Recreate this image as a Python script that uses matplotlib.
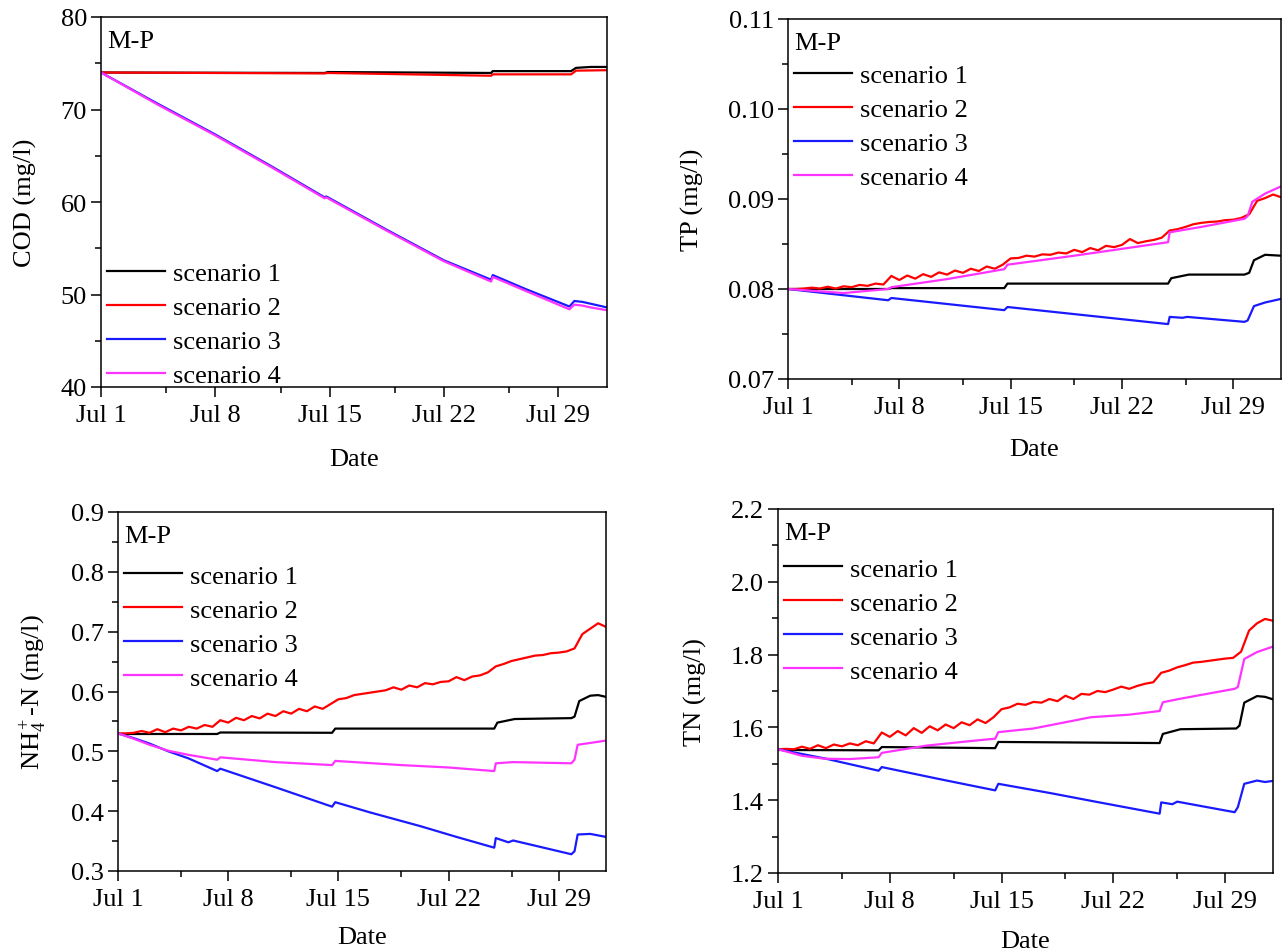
import numpy as np
import matplotlib
matplotlib.use('Agg')
import matplotlib.pyplot as plt
from matplotlib.ticker import FixedLocator, MultipleLocator, FormatStrFormatter

# days counted from Jul 1 00:00
DATE_TICKS = [0, 7, 14, 21, 28]
DATE_LABELS = ['Jul 1', 'Jul 8', 'Jul 15', 'Jul 22', 'Jul 29']
DATE_MINOR = [4, 11, 18, 25]
SCENARIOS = ['scenario 1', 'scenario 2', 'scenario 3', 'scenario 4']
COLORS = ['#000000', '#ff0000', '#1a1aff', '#ff33ff']

# half-day sampling used for the oscillating scenario 2 curves
HALF_DAYS = [i * 0.5 for i in range(63)]

# ---------------- COD ----------------
cod_s1_days = [0, 13.7, 13.9, 23.9, 24.0, 28.8, 29.1, 30.0, 31]
cod_s1 = [74.0, 73.95, 74.05, 73.95, 74.15, 74.15, 74.5, 74.6, 74.6]
cod_s2_days = [0, 13.7, 13.9, 23.9, 24.0, 28.8, 29.1, 31]
cod_s2 = [74.0, 73.9, 73.95, 73.65, 73.8, 73.8, 74.2, 74.25]
cod_s3_days = [0, 3.5, 7, 10.5, 13.7, 13.8, 17.5, 21, 23.9, 24.0, 26, 28.7, 29.0, 29.5, 30.0, 31]
cod_s3 = [74.0, 70.6, 67.3, 63.8, 60.5, 60.6, 57.0, 53.7, 51.6, 52.1, 50.6, 48.7, 49.3, 49.2, 49.0, 48.6]
cod_s4_days = [0, 3.5, 7, 10.5, 13.7, 13.8, 17.5, 21, 23.9, 24.0, 26, 28.7, 29.0, 29.5, 30.0, 31]
cod_s4 = [74.0, 70.5, 67.2, 63.7, 60.4, 60.5, 56.9, 53.6, 51.4, 51.9, 50.4, 48.4, 48.9, 48.8, 48.6, 48.3]

# ---------------- TP ----------------
tp_s1_days = [0, 6.3, 6.5, 13.6, 13.8, 23.9, 24.1, 25.2, 28.7, 29.0, 29.3, 30.0, 31]
tp_s1 = [0.0800, 0.0800, 0.0801, 0.0801, 0.0806, 0.0806, 0.0812, 0.0816, 0.0816, 0.0818, 0.0832, 0.0838, 0.0837]
tp_s2 = [0.08000, 0.08000, 0.08005, 0.08015, 0.08005, 0.08025, 0.08005, 0.08030, 0.08020, 0.08045,
         0.08035, 0.08060, 0.08050, 0.08145, 0.08100, 0.08150, 0.08115, 0.08165, 0.08135, 0.08185,
         0.08160, 0.08205, 0.08180, 0.08225, 0.08200, 0.08250, 0.08225, 0.08270, 0.08340, 0.08345,
         0.08370, 0.08360, 0.08385, 0.08380, 0.08405, 0.08395, 0.08435, 0.08410, 0.08455, 0.08430,
         0.08480, 0.08465, 0.08490, 0.08555, 0.08510, 0.08530, 0.08545, 0.08570, 0.08650, 0.08665,
         0.08690, 0.08720, 0.08735, 0.08745, 0.08750, 0.08765, 0.08770, 0.08790, 0.08830, 0.08980,
         0.09010, 0.09050, 0.09020]
tp_s3_days = [0, 6.3, 6.5, 13.6, 13.8, 23.9, 24.0, 24.8, 25.1, 28.7, 28.9, 29.3, 30.0, 31]
tp_s3 = [0.0800, 0.07875, 0.0790, 0.07765, 0.0780, 0.0761, 0.0769, 0.0768, 0.0769, 0.07635, 0.0765, 0.0781, 0.0785, 0.0789]
tp_s4_days = [0, 3.5, 6.3, 6.5, 10, 13.6, 13.8, 18, 23.9, 24.0, 26, 28.7, 28.9, 29.2, 30.0, 31]
tp_s4 = [0.0800, 0.07955, 0.0800, 0.0802, 0.0811, 0.0822, 0.0827, 0.0837, 0.0852, 0.0863, 0.0869, 0.0878, 0.0881, 0.0897, 0.0906, 0.0914]

# ---------------- NH4+-N ----------------
nh_s1_days = [0, 6.3, 6.5, 13.6, 13.8, 23.9, 24.1, 25.2, 28.8, 29.0, 29.3, 30.0, 30.5, 31]
nh_s1 = [0.529, 0.529, 0.5315, 0.531, 0.538, 0.538, 0.548, 0.554, 0.5555, 0.558, 0.584, 0.593, 0.594, 0.591]
nh_s2 = [0.530, 0.530, 0.531, 0.534, 0.531, 0.537, 0.532, 0.538, 0.535, 0.541,
         0.538, 0.544, 0.541, 0.552, 0.548, 0.556, 0.552, 0.559, 0.555, 0.563,
         0.559, 0.567, 0.563, 0.571, 0.567, 0.575, 0.571, 0.579, 0.587, 0.589,
         0.594, 0.596, 0.598, 0.600, 0.602, 0.607, 0.603, 0.610, 0.607, 0.614,
         0.612, 0.616, 0.617, 0.624, 0.619, 0.625, 0.627, 0.632, 0.642, 0.646,
         0.651, 0.654, 0.657, 0.660, 0.661, 0.664, 0.665, 0.667, 0.672, 0.696,
         0.705, 0.714, 0.708]
nh_s3_days = [0, 1, 2, 3.2, 4.5, 6.3, 6.5, 10, 13.6, 13.8, 16, 19.2, 21.5, 23.9, 24.0, 24.8, 25.1, 28.8, 29.0, 29.2, 30.0, 31]
nh_s3 = [0.530, 0.522, 0.513, 0.500, 0.488, 0.467, 0.471, 0.440, 0.4075, 0.415, 0.398, 0.375, 0.357, 0.339, 0.355, 0.348, 0.351, 0.328, 0.333, 0.361, 0.362, 0.357]
nh_s4_days = [0, 1, 2, 3.2, 4.5, 6.3, 6.5, 10, 13.6, 13.8, 18, 21, 23.9, 24.0, 25.1, 28.8, 29.0, 29.2, 30.0, 31]
nh_s4 = [0.530, 0.521, 0.511, 0.501, 0.494, 0.486, 0.490, 0.482, 0.477, 0.484, 0.477, 0.473, 0.467, 0.480, 0.482, 0.480, 0.486, 0.511, 0.514, 0.518]

# ---------------- TN ----------------
tn_s1_days = [0, 6.3, 6.5, 13.6, 13.8, 23.9, 24.1, 25.2, 28.7, 28.9, 29.2, 30.0, 30.5, 31]
tn_s1 = [1.538, 1.537, 1.546, 1.543, 1.560, 1.557, 1.582, 1.595, 1.597, 1.605, 1.668, 1.686, 1.684, 1.677]
tn_s2 = [1.540, 1.541, 1.540, 1.547, 1.541, 1.551, 1.543, 1.553, 1.548, 1.556,
         1.551, 1.562, 1.556, 1.586, 1.574, 1.590, 1.578, 1.598, 1.585, 1.603,
         1.592, 1.608, 1.598, 1.614, 1.606, 1.622, 1.612, 1.628, 1.650, 1.655,
         1.665, 1.662, 1.670, 1.668, 1.678, 1.672, 1.687, 1.678, 1.692, 1.690,
         1.700, 1.697, 1.704, 1.712, 1.706, 1.714, 1.720, 1.724, 1.750, 1.756,
         1.765, 1.771, 1.778, 1.780, 1.783, 1.786, 1.789, 1.791, 1.808, 1.866,
         1.886, 1.898, 1.893]
tn_s3_days = [0, 3, 6.3, 6.5, 10, 13.6, 13.8, 17, 20, 23.9, 24.0, 24.7, 25.0, 28.6, 28.8, 29.2, 30.0, 30.5, 31]
tn_s3 = [1.540, 1.514, 1.481, 1.491, 1.459, 1.427, 1.445, 1.420, 1.395, 1.363, 1.394, 1.389, 1.396, 1.367, 1.381, 1.445, 1.454, 1.450, 1.453]
tn_s4_days = [0, 1.5, 2.9, 4.5, 6.3, 6.5, 9.3, 12.4, 13.6, 13.8, 16, 19.6, 22, 23.9, 24.1, 25.1, 28.6, 28.8, 29.2, 30.0, 31]
tn_s4 = [1.540, 1.522, 1.514, 1.513, 1.518, 1.530, 1.550, 1.564, 1.569, 1.587, 1.597, 1.628, 1.635, 1.645, 1.669, 1.678, 1.706, 1.711, 1.788, 1.807, 1.822]


plt.rcParams['font.family'] = ['Liberation Serif', 'DejaVu Serif']
plt.rcParams['mathtext.fontset'] = 'custom'
plt.rcParams['mathtext.rm'] = 'Liberation Serif'
plt.rcParams['mathtext.it'] = 'Liberation Serif:italic'
plt.rcParams['font.size'] = 19


def draw_panel(ax, series, ylabel, ylim, major, minor, fmt, legend_kw, xlabelpad):
    for (days, vals), name, col in zip(series, SCENARIOS, COLORS):
        ax.plot(days, vals, color=col, lw=1.6, label=name)

    ax.set_xlim(0, 31)
    ax.set_ylim(*ylim)
    ax.xaxis.set_major_locator(FixedLocator(DATE_TICKS))
    ax.set_xticklabels(DATE_LABELS)
    ax.xaxis.set_minor_locator(FixedLocator(DATE_MINOR))
    ax.yaxis.set_major_locator(MultipleLocator(major))
    ax.yaxis.set_minor_locator(MultipleLocator(minor))
    ax.yaxis.set_major_formatter(FormatStrFormatter(fmt))

    ax.tick_params(which='major', direction='out', length=7, width=1.1, labelsize=19)
    ax.tick_params(which='minor', direction='out', length=4, width=1.1)
    ax.tick_params(axis='x', pad=5)
    ax.tick_params(axis='y', pad=3)
    for sp in ax.spines.values():
        sp.set_linewidth(1.1)

    ax.set_xlabel('Date', fontsize=19, labelpad=xlabelpad)
    ax.set_ylabel(ylabel, fontsize=19, labelpad=17)
    ax.text(0.012, 0.965, 'M-P', transform=ax.transAxes, ha='left', va='top', fontsize=19)

    ax.legend(frameon=False, fontsize=19, handlelength=2.2, handletextpad=0.3,
              labelspacing=0.4, borderpad=0, borderaxespad=0, **legend_kw)


fig = plt.figure(figsize=(12.85, 9.53), dpi=100)
W, H = 1285.0, 953.0


def axes_px(left, top, right, bottom):
    return fig.add_axes([left / W, 1 - bottom / H, (right - left) / W, (bottom - top) / H])


ax1 = axes_px(101, 18, 607, 388)
ax2 = axes_px(788, 20, 1281, 380)
ax3 = axes_px(118, 513, 606, 872)
ax4 = axes_px(778, 510, 1273, 874)

draw_panel(ax1, [(cod_s1_days, cod_s1), (cod_s2_days, cod_s2), (cod_s3_days, cod_s3), (cod_s4_days, cod_s4)],
           'COD (mg/l)', (40, 80), 10, 5, '%d',
           dict(loc='lower left', bbox_to_anchor=(0.012, 0.0)), 16)
draw_panel(ax2, [(tp_s1_days, tp_s1), (HALF_DAYS, tp_s2), (tp_s3_days, tp_s3), (tp_s4_days, tp_s4)],
           'TP (mg/l)', (0.07, 0.11), 0.01, 0.005, '%.2f',
           dict(loc='upper left', bbox_to_anchor=(0.012, 0.877)), 15)
draw_panel(ax3, [(nh_s1_days, nh_s1), (HALF_DAYS, nh_s2), (nh_s3_days, nh_s3), (nh_s4_days, nh_s4)],
           'NH$_4^+$-N (mg/l)', (0.3, 0.9), 0.1, 0.05, '%.1f',
           dict(loc='upper left', bbox_to_anchor=(0.012, 0.855)), 12)
draw_panel(ax4, [(tn_s1_days, tn_s1), (HALF_DAYS, tn_s2), (tn_s3_days, tn_s3), (tn_s4_days, tn_s4)],
           'TN (mg/l)', (1.2, 2.2), 0.2, 0.1, '%.1f',
           dict(loc='upper left', bbox_to_anchor=(0.012, 0.868)), 13)

fig.savefig('out.png', dpi=100)
